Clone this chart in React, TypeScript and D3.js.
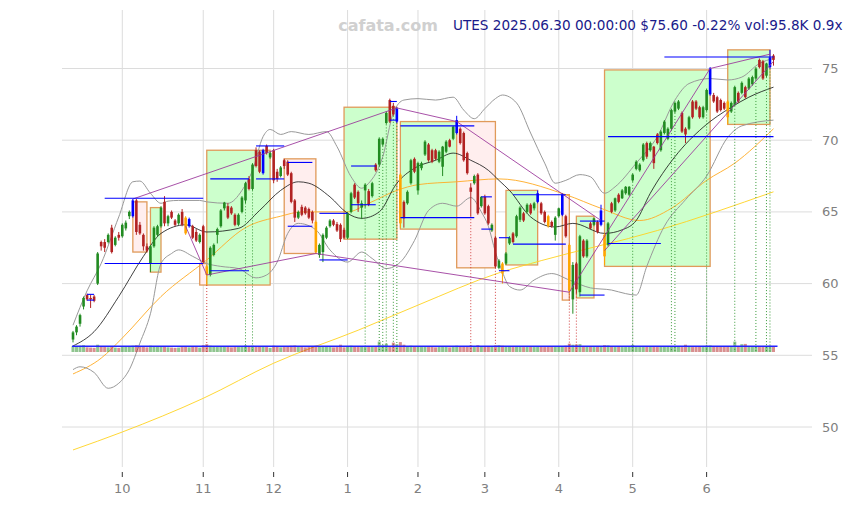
import React from "react";
import * as d3 from "d3";

const W = 859;
const H = 505;

// month tick labels and the candle index of the first trading day of that month
const monthLabels = ["10", "11", "12", "1", "2", "3", "4", "5", "6"];
const monthStarts = [14, 37, 57, 78, 98, 117, 138, 159, 180];
const priceTicks = [50, 55, 60, 65, 70, 75];

// daily candles 2024-09-11 .. 2025-06-30 : [open, high, low, close]
const candles: [number, number, number, number][] = [
  [56.1, 56.7, 55.9, 56.6], [56.6, 57.1, 56.4, 57.0], [57.2, 57.9, 57.0, 57.8], [58.4, 59.1, 58.2, 59.0],
  [59.2, 59.3, 58.8, 58.9], [59.0, 59.2, 58.3, 58.9], [59.1, 59.2, 58.7, 58.8], [60.0, 62.2, 59.9, 62.1],
  [62.9, 63.0, 62.3, 62.6], [62.9, 63.1, 62.2, 62.5], [62.9, 63.5, 62.8, 63.4], [63.9, 64.1, 62.1, 62.2],
  [62.7, 63.3, 62.6, 63.2], [63.4, 63.6, 63.0, 63.2], [63.3, 64.2, 63.2, 64.1], [63.85, 64.4, 63.7, 64.25],
  [64.7, 65.1, 64.5, 65.0], [64.7, 65.9, 64.6, 65.8], [65.8, 65.9, 63.4, 63.6], [64.1, 64.3, 63.4, 63.5],
  [63.4, 63.5, 62.3, 62.6], [62.6, 62.8, 62.2, 62.3], [61.4, 62.7, 60.8, 62.6], [62.6, 64.0, 62.5, 63.9],
  [63.4, 64.1, 63.3, 64.0], [64.0, 65.4, 63.9, 65.3], [65.7, 66.1, 64.0, 64.2], [64.2, 64.8, 64.0, 64.7],
  [65.0, 65.1, 64.5, 64.6], [64.4, 64.5, 64.0, 64.1], [64.2, 64.9, 64.1, 64.8], [65.0, 65.2, 64.0, 64.1],
  [64.6, 64.7, 63.4, 63.5], [64.0, 64.6, 63.9, 64.5], [64.0, 64.1, 63.1, 63.2], [63.6, 63.8, 62.9, 63.0],
  [62.9, 63.5, 62.8, 63.4], [64.0, 64.1, 61.4, 61.5], [61.2, 61.3, 59.9, 60.6], [60.6, 62.6, 60.5, 62.5],
  [62.0, 62.8, 61.9, 62.7], [63.4, 63.9, 62.8, 63.8], [64.0, 65.2, 63.9, 65.1], [65.25, 65.7, 65.1, 65.65],
  [65.4, 65.6, 64.5, 64.6], [65.3, 65.4, 64.8, 64.9], [64.8, 64.9, 64.0, 64.1], [64.1, 64.9, 64.0, 64.8],
  [65.0, 66.1, 64.9, 66.0], [65.8, 67.1, 65.6, 67.0], [67.3, 67.5, 66.5, 66.6], [66.6, 68.4, 66.5, 68.3],
  [69.3, 69.5, 68.1, 68.2], [69.2, 69.3, 67.7, 67.8], [67.7, 69.4, 67.6, 69.3], [69.6, 69.7, 69.0, 69.1],
  [68.8, 69.2, 68.7, 69.1], [69.3, 69.4, 67.0, 67.2], [67.8, 68.0, 67.1, 67.3], [67.5, 68.2, 67.4, 68.1],
  [68.6, 68.7, 68.0, 68.2], [68.5, 68.6, 67.5, 67.6], [67.7, 67.8, 65.6, 65.7], [65.8, 65.9, 64.3, 64.6],
  [64.6, 65.1, 64.5, 65.0], [65.35, 65.5, 64.7, 64.8], [65.3, 65.4, 64.8, 64.9], [65.2, 65.3, 64.5, 64.6],
  [65.0, 65.1, 64.2, 64.4], [64.3, 64.4, 62.1, 62.2], [62.0, 62.8, 61.8, 62.7], [62.2, 63.5, 61.5, 63.4],
  [63.2, 64.0, 63.1, 63.9], [64.0, 64.5, 63.9, 64.4], [64.4, 64.5, 64.0, 64.1], [64.15, 64.3, 63.6, 63.7],
  [64.1, 64.2, 62.9, 63.1], [63.75, 63.9, 63.1, 63.2], [63.2, 65.0, 63.1, 64.9], [65.0, 66.4, 64.9, 66.3],
  [66.9, 67.0, 65.9, 66.0], [66.4, 66.5, 65.0, 65.6], [65.3, 65.8, 64.5, 65.6], [66.5, 67.0, 65.3, 66.9],
  [66.45, 66.6, 65.4, 65.5], [66.1, 67.1, 66.0, 67.0], [68.3, 68.4, 67.8, 67.9], [68.3, 70.2, 68.2, 70.1],
  [69.7, 70.2, 69.6, 70.1], [71.2, 72.0, 71.1, 71.9], [72.8, 72.9, 71.2, 71.3], [72.4, 72.6, 71.7, 71.8],
  [71.3, 72.3, 71.2, 72.2], [67.6, 67.7, 63.9, 64.2], [65.7, 65.8, 63.9, 64.55], [65.6, 66.5, 65.5, 66.4],
  [67.0, 68.7, 66.9, 68.6], [68.7, 68.8, 67.7, 67.8], [66.5, 68.5, 66.2, 68.4], [68.05, 68.5, 67.9, 68.4],
  [69.0, 70.0, 68.9, 69.9], [69.7, 69.8, 68.5, 68.6], [69.3, 69.4, 68.4, 68.5], [69.3, 69.4, 68.6, 68.7],
  [68.5, 69.3, 68.4, 69.2], [68.15, 69.6, 67.5, 69.55], [69.2, 70.0, 69.1, 69.9], [70.0, 70.1, 69.5, 69.55],
  [70.1, 71.0, 70.0, 70.95], [70.5, 71.7, 70.4, 71.4], [70.8, 70.9, 69.7, 69.8], [70.5, 70.6, 68.5, 68.6],
  [69.1, 69.2, 67.6, 67.7], [66.7, 67.0, 64.7, 66.4], [67.0, 67.6, 66.9, 67.5], [67.6, 67.7, 64.8, 64.9],
  [65.4, 66.1, 65.3, 66.05], [66.05, 66.2, 64.8, 64.9], [65.4, 65.5, 64.1, 64.2], [63.7, 64.2, 63.6, 64.1],
  [63.2, 63.3, 61.1, 61.2], [61.1, 61.7, 61.0, 61.6], [61.4, 61.5, 60.0, 60.7], [61.4, 62.2, 61.3, 62.1],
  [62.8, 63.3, 62.7, 63.2], [63.5, 63.6, 62.8, 62.9], [63.3, 64.8, 63.2, 64.7], [64.45, 65.4, 64.3, 65.3],
  [64.9, 65.0, 64.3, 64.4], [65.0, 65.6, 64.9, 65.5], [65.5, 65.6, 64.8, 64.9], [65.25, 65.7, 65.1, 65.6],
  [65.7, 66.5, 65.6, 66.3], [65.6, 65.7, 64.8, 64.9], [65.0, 65.1, 64.2, 64.3], [64.7, 64.8, 63.9, 64.0],
  [64.3, 64.4, 63.9, 64.0], [63.4, 64.7, 63.0, 64.6], [64.7, 65.3, 64.6, 65.25], [64.8, 66.3, 64.7, 66.2],
  [64.7, 64.8, 63.2, 63.3], [62.7, 62.8, 59.3, 59.5], [58.9, 61.5, 57.9, 61.3], [61.4, 61.5, 59.3, 59.6],
  [59.4, 63.4, 59.1, 63.3], [63.0, 63.1, 61.8, 61.9], [61.9, 63.1, 61.8, 63.0], [64.2, 64.3, 63.8, 63.85],
  [64.1, 64.6, 64.0, 64.55], [64.3, 64.4, 63.5, 63.6], [64.1, 65.5, 64.0, 65.1], [63.4, 63.5, 61.3, 61.9],
  [62.7, 64.3, 62.6, 64.2], [65.6, 65.7, 64.9, 65.0], [65.1, 66.0, 65.0, 65.95], [66.2, 66.3, 65.6, 65.7],
  [65.95, 66.6, 65.9, 66.5], [66.3, 66.8, 66.2, 66.75], [66.2, 66.8, 66.1, 66.75], [67.2, 67.7, 67.1, 67.6],
  [68.0, 68.6, 67.9, 68.5], [67.9, 68.4, 67.8, 68.3], [68.6, 69.8, 68.5, 69.7], [69.8, 69.9, 68.7, 68.85],
  [69.3, 69.9, 69.2, 69.8], [69.55, 69.6, 68.0, 68.4], [70.4, 70.5, 69.7, 69.8], [69.3, 70.7, 69.2, 70.6],
  [70.5, 71.4, 70.4, 71.3], [70.1, 70.9, 70.0, 70.8], [70.8, 72.2, 70.7, 72.1], [72.0, 72.7, 71.9, 72.6],
  [72.2, 72.8, 72.1, 72.7], [71.9, 72.0, 70.5, 70.6], [70.8, 70.9, 69.8, 70.4], [70.8, 71.7, 70.7, 71.6],
  [72.7, 72.8, 71.5, 71.6], [72.7, 72.8, 72.1, 72.2], [72.3, 72.4, 71.5, 71.6], [71.6, 72.4, 71.5, 72.3],
  [72.1, 73.6, 72.0, 73.5], [73.2, 75.1, 73.1, 75.0], [73.15, 73.3, 72.6, 72.7], [73.0, 73.1, 71.9, 72.0],
  [72.8, 72.9, 72.0, 72.1], [72.6, 72.7, 72.1, 72.2], [72.7, 72.8, 71.1, 71.6], [72.0, 72.7, 71.9, 72.6],
  [72.45, 73.8, 72.4, 73.7], [73.3, 73.4, 72.6, 72.7], [73.3, 74.1, 73.2, 74.0], [73.7, 73.8, 72.9, 73.0],
  [73.6, 74.4, 73.5, 74.3], [73.9, 74.5, 73.8, 74.4], [74.3, 75.1, 74.2, 75.0], [75.6, 75.7, 75.0, 75.1],
  [75.5, 75.6, 74.2, 74.3], [74.5, 75.4, 74.4, 75.35], [75.1, 76.3, 75.0, 75.77], [75.9, 76.0, 75.2, 75.6],
];

// daily volume, thousands of shares
const volumes = [
  110, 95, 120, 130, 90, 85, 80, 140, 105, 95, 90, 115, 85, 80, 95, 100, 105, 120, 130, 110,
  100, 90, 120, 105, 95, 110, 115, 90, 85, 80, 85, 95, 105, 90, 100, 95, 85, 130, 150, 120,
  100, 95, 110, 100, 95, 90, 100, 95, 105, 125, 100, 120, 115, 105, 110, 95, 80, 120, 100, 90,
  95, 100, 120, 125, 95, 100, 90, 95, 100, 120, 110, 115, 100, 95, 90, 95, 140, 90, 110, 120,
  100, 95, 105, 110, 95, 100, 110, 200, 130, 160, 110, 180, 150, 190, 140, 110, 120, 100, 115, 95,
  105, 95, 100, 90, 95, 100, 105, 90, 110, 120, 105, 115, 110, 125, 95, 130, 100, 110, 115, 100,
  125, 130, 120, 110, 100, 95, 105, 100, 95, 105, 100, 95, 110, 100, 95, 105, 100, 110, 100, 115,
  120, 160, 140, 145, 150, 110, 105, 100, 95, 100, 110, 130, 125, 110, 100, 105, 95, 100, 105, 135,
  100, 95, 110, 105, 100, 110, 95, 105, 100, 110, 115, 105, 100, 95, 140, 100, 95, 110, 100, 105,
  120, 125, 110, 100, 105, 110, 115, 105, 200, 110, 150, 155, 110, 100, 105, 95, 110, 100, 120, 96,
];

// pivot candles painted blue (swing highs) and orange (swing lows)
const bluePivots = [17, 33, 54, 92, 109, 132, 139, 150, 181, 198];
const orangePivots = [32, 38, 69, 93, 122, 135, 141, 151, 186];

// range boxes: [fromIdx, toIdx, top, bottom, kind]
const boxes: [number, number, number, number, string][] = [
  [17, 21, 65.7, 62.2, "down"],
  [22, 25, 65.3, 60.8, "up"],
  [36, 38, 61.4, 59.9, "down"],
  [38, 56, 69.3, 59.9, "up"],
  [60, 69, 68.7, 62.1, "down"],
  [77, 92, 72.3, 63.1, "up"],
  [93, 109, 71.3, 63.8, "up"],
  [109, 120, 71.3, 61.1, "down"],
  [123, 132, 66.5, 61.3, "up"],
  [139, 141, 66.2, 58.85, "down"],
  [143, 148, 64.7, 59.0, "up"],
  [151, 181, 74.9, 61.2, "up"],
  [186, 198, 76.3, 71.1, "up"],
];

// blue support / resistance segments: [fromIdx, toIdx, price]
const levels: [number, number, number][] = [
  [4, 6, 59.25], [4, 6, 58.85],
  [9, 37, 65.95], [9, 37, 61.4],
  [39, 50, 67.3], [39, 50, 60.9],
  [52, 60, 69.6], [52, 60, 67.3],
  [61, 68, 68.45], [61, 68, 64.0],
  [70, 78, 64.9], [70, 78, 61.65],
  [79, 86, 68.2], [79, 86, 65.5],
  [90, 92, 72.7], [90, 92, 71.4],
  [93, 114, 71.0], [93, 114, 64.6],
  [116, 119, 66.05], [116, 119, 63.8],
  [121, 124, 63.2], [121, 124, 60.9],
  [125, 140, 66.2], [125, 140, 62.75],
  [144, 151, 64.36], [144, 151, 59.2],
  [152, 167, 62.8], [152, 199, 70.25],
  [168, 199, 75.8],
];

// purple zigzag trend lines: [idx, price]
const zigzags: [number, number][][] = [
  [[17, 65.9], [92, 72.25], [109, 71.3], [150, 64.4]],
  [[32, 64.0], [38, 60.6], [69, 62.1], [141, 59.4], [181, 75.0], [198, 76.0]],
  [[151, 62.3], [199, 75.5]],
];

// dotted signal markers
const redSignals = [38, 113, 120, 141, 143];
const greenSignals = [49, 51, 83, 87, 88, 89, 91, 92, 159, 170, 171, 180, 188, 194, 197, 198];

// indicator lines: [idx, value]
const sma20: [number, number][] = [
  [0, 55.65], [6, 56.65], [13, 59.1], [20, 61.9], [25, 63.5], [32, 64.1], [38, 63.6], [47, 63.85],
  [53, 65.1], [59, 66.5], [64, 67.1], [67, 67.0], [73, 66.05], [78, 64.9], [82, 64.55], [87, 65.0],
  [92, 67.0], [97, 68.05], [103, 68.6], [108, 69.1], [113, 68.6], [118, 67.9], [121, 67.2], [124, 66.5],
  [130, 64.65], [137, 63.95], [142, 64.2], [151, 63.5], [156, 63.75], [160, 64.4], [164, 66.3],
  [171, 68.85], [179, 70.9], [187, 72.3], [192, 73.0], [199, 73.7],
];
const upperBand: [number, number][] = [
  [0, 57.1], [4, 59.5], [8, 61.4], [13, 64.65], [17, 67.1], [19, 67.15], [22, 66.3], [25, 65.6],
  [27, 65.75], [30, 65.8], [36, 65.8], [38, 65.7], [44, 65.6], [48, 66.5], [51, 67.9], [54, 70.25],
  [56, 70.75], [59, 70.4], [62, 70.6], [67, 70.4], [72, 70.6], [75, 69.55], [79, 67.45], [82, 66.65],
  [84, 67.0], [88, 68.85], [91, 71.9], [94, 72.8], [98, 72.9], [103, 72.8], [108, 73.0], [111, 72.1],
  [114, 71.5], [117, 72.2], [120, 72.9], [122, 73.15], [126, 72.6], [130, 70.5], [134, 68.4],
  [137, 67.0], [140, 67.2], [144, 67.6], [147, 67.45], [151, 66.3], [154, 66.75], [160, 68.4],
  [166, 70.25], [171, 72.8], [175, 73.95], [181, 74.3], [186, 74.2], [190, 74.4], [195, 75.35], [199, 75.7],
];
const lowerBand: [number, number][] = [
  [0, 54.0], [2, 54.2], [6, 53.8], [10, 52.7], [13, 53.05], [16, 54.0], [19, 55.85], [22, 57.9],
  [25, 61.4], [28, 62.1], [30, 62.35], [34, 61.9], [38, 61.4], [42, 61.2], [47, 61.05], [52, 60.4],
  [55, 60.6], [58, 61.5], [61, 63.5], [64, 64.2], [69, 63.75], [73, 62.35], [78, 61.5], [82, 62.2],
  [85, 61.75], [89, 61.05], [93, 61.5], [97, 63.0], [101, 65.1], [105, 65.6], [109, 65.4], [113, 66.0],
  [116, 65.0], [118, 64.0], [120, 62.2], [122, 60.8], [124, 59.8], [127, 59.55], [131, 60.25],
  [136, 60.7], [141, 60.25], [147, 59.7], [153, 59.55], [157, 59.3], [160, 59.2], [163, 61.2],
  [168, 64.0], [174, 65.85], [180, 67.5], [186, 70.2], [190, 71.0], [199, 71.4],
];
const sma50: [number, number][] = [
  [0, 53.7], [8, 54.8], [14, 56.2], [25, 59.1], [38, 61.65], [49, 63.9], [59, 64.7], [65, 65.0],
  [78, 65.0], [84, 65.6], [92, 66.5], [98, 66.9], [109, 67.1], [121, 67.3], [140, 66.2], [150, 65.25],
  [161, 64.4], [170, 65.25], [180, 67.2], [188, 68.4], [199, 70.8],
];
const sma200: [number, number][] = [
  [0, 48.4], [14, 49.65], [37, 52.0], [57, 54.45], [81, 56.75], [98, 58.5], [121, 60.75],
  [133, 61.6], [166, 63.7], [199, 66.4],
];

const GREEN = "#228b22";
const RED = "#b22222";

export default function App() {
  const x = d3.scaleLinear().domain([0, candles.length - 1]).range([73, 773.5]);
  const y = d3.scaleLinear().domain([50, 75]).range([427, 68.5]);
  const vy = d3.scaleLinear().domain([0, 230]).range([352, 340]);
  const bodyW = 2.6;

  const line = d3
    .line<[number, number]>()
    .x((d) => x(d[0]))
    .y((d) => y(d[1]))
    .curve(d3.curveMonotoneX);
  const straight = d3
    .line<[number, number]>()
    .x((d) => x(d[0]))
    .y((d) => y(d[1]));

  const avgVol = d3.mean(volumes) as number;
  const labelFont = "DejaVu Sans, sans-serif";

  const candleColor = (i: number) => {
    if (bluePivots.includes(i)) return "#0000ff";
    if (orangePivots.includes(i)) return "#ffa500";
    const [o, , , c] = candles[i];
    return c >= o ? GREEN : RED;
  };

  return (
    <svg
      width={W}
      height={H}
      style={{ position: "absolute", left: 0, top: 0, background: "#fff" }}
    >
      {/* grid */}
      {priceTicks.map((p) => (
        <line key={"h" + p} x1={62} x2={812} y1={y(p)} y2={y(p)} stroke="#dcdcdc" strokeWidth={1} />
      ))}
      {monthStarts.map((m) => (
        <line key={"v" + m} x1={x(m)} x2={x(m)} y1={10} y2={467} stroke="#dcdcdc" strokeWidth={1} />
      ))}

      {/* range boxes */}
      {boxes.map(([a, b, top, bot, kind], k) => (
        <rect
          key={"b" + k}
          x={x(a)}
          y={y(top)}
          width={x(b) - x(a)}
          height={y(bot) - y(top)}
          fill={kind === "up" ? "#ccffcc" : "#ffeeee"}
          stroke="#e09a5a"
          strokeWidth={1.3}
        />
      ))}

      {/* moving averages and bands */}
      <path d={line(sma200) || ""} fill="none" stroke="#ffd21f" strokeWidth={0.9} />
      <path d={line(sma50) || ""} fill="none" stroke="#ffaa22" strokeWidth={0.9} />
      <path d={line(upperBand) || ""} fill="none" stroke="#999" strokeWidth={1} />
      <path d={line(lowerBand) || ""} fill="none" stroke="#999" strokeWidth={1} />
      <path d={line(sma20) || ""} fill="none" stroke="#111" strokeWidth={0.8} />

      {/* signal markers */}
      {redSignals.map((i) => (
        <line key={"rs" + i} x1={x(i)} x2={x(i)} y1={y(candles[i][2])} y2={352}
          stroke="#d04040" strokeWidth={1} strokeDasharray="1,2" />
      ))}
      {greenSignals.map((i) => (
        <line key={"gs" + i} x1={x(i)} x2={x(i)} y1={y(candles[i][2])} y2={352}
          stroke="#3a9a3a" strokeWidth={1} strokeDasharray="1,2" />
      ))}

      {/* volume */}
      {volumes.map((v, i) => {
        const [o, , , c] = candles[i];
        return (
          <rect key={"v" + i} x={x(i) - 1.5} y={vy(v)} width={3} height={vy(0) - vy(v)}
            fill={c >= o ? GREEN : RED} opacity={0.5} />
        );
      })}
      <line x1={x(0) - 1} x2={x(candles.length - 1) + 4} y1={vy(avgVol)} y2={vy(avgVol)}
        stroke="#2222ff" strokeWidth={1.4} />

      {/* candles */}
      {candles.map(([o, h, l, c], i) => {
        const col = candleColor(i);
        const top = y(Math.max(o, c));
        const bh = Math.max(1, y(Math.min(o, c)) - top);
        return (
          <g key={"c" + i}>
            <line x1={x(i)} x2={x(i)} y1={y(h)} y2={y(l)} stroke={col} strokeWidth={1} />
            <rect x={x(i) - bodyW / 2} y={top} width={bodyW} height={bh} fill={col} />
          </g>
        );
      })}

      {/* trend lines */}
      {zigzags.map((z, k) => (
        <path key={"z" + k} d={straight(z) || ""} fill="none" stroke="#993399" strokeWidth={1} opacity={0.85} />
      ))}

      {/* support / resistance */}
      {levels.map(([a, b, p], k) => (
        <line key={"l" + k} x1={x(a)} x2={x(b)} y1={y(p)} y2={y(p)} stroke="#0000ff" strokeWidth={1.1} />
      ))}

      {/* axes labels */}
      {priceTicks.map((p) => (
        <text key={"r" + p} x={822} y={y(p)} dy="0.35em" fontSize={13} fill="#808080" fontFamily={labelFont}>
          {p}
        </text>
      ))}
      {monthStarts.map((m, k) => (
        <g key={"m" + m}>
          <line x1={x(m)} x2={x(m)} y1={472} y2={477} stroke="#333" strokeWidth={1} />
          <text x={x(m)} y={488} dy="0.35em" textAnchor="middle" fontSize={13} fill="#808080" fontFamily={labelFont}>
            {monthLabels[k]}
          </text>
        </g>
      ))}

      {/* header */}
      <text x={388} y={25} dy="0.35em" textAnchor="middle" fontSize={16} fontWeight="bold"
        fill="#d0d0d0" fontFamily={labelFont}>
        cafata.com
      </text>
      <text x={453} y={25} dy="0.35em" fontSize={13.6} fill="#1a1a8a" fontFamily={labelFont}>
        UTES 2025.06.30 00:00:00 $75.60 -0.22% vol:95.8K 0.9x
      </text>
    </svg>
  );
}
